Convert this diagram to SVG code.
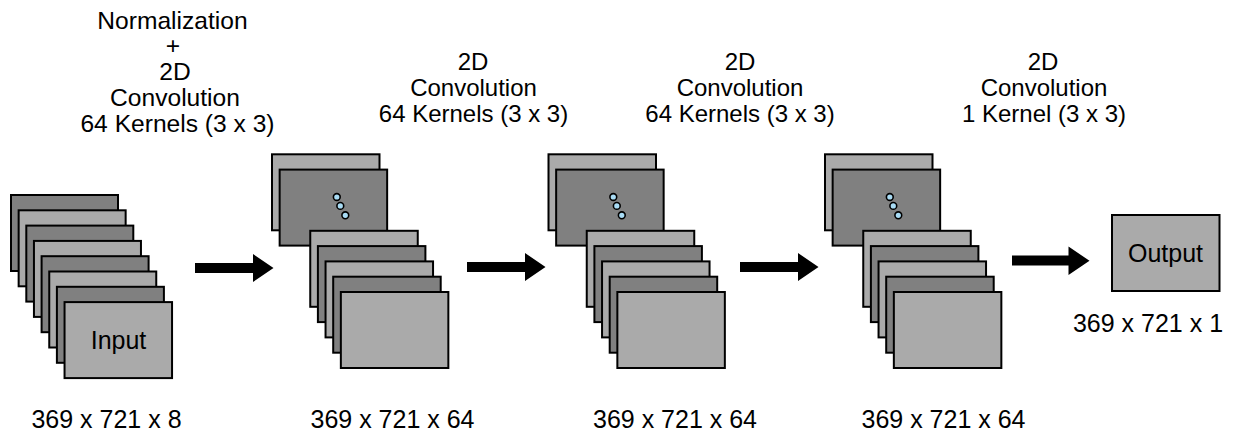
<svg xmlns="http://www.w3.org/2000/svg" width="1234" height="435" viewBox="0 0 1234 435">
<style>
text{font-family:"Liberation Sans",Arial,sans-serif;fill:#000;text-anchor:middle}
.t{font-size:24px}
.t1{font-size:24.6px}
.l{font-size:25px}
.d{fill:#808080;stroke:#000;stroke-width:2}
.g{fill:#aaaaaa;stroke:#000;stroke-width:2}
.c{fill:#a9dcf5;stroke:#000;stroke-width:1.6}
.a{fill:#000}
</style>
<defs>
<g id="dots">
<circle class="c" cx="64.8" cy="42.7" r="3.4"/>
<circle class="c" cx="68.3" cy="51.6" r="3.4"/>
<circle class="c" cx="73.3" cy="61" r="3.4"/>
</g>
<g id="convstack">
<rect class="g" x="0" y="0" width="107.5" height="76"/>
<rect class="d" x="7.65" y="15.3" width="107.5" height="76"/>
<use href="#dots"/>
<rect class="g" x="38.25" y="76.5" width="107.5" height="76"/>
<rect class="d" x="45.9" y="91.8" width="107.5" height="76"/>
<rect class="g" x="53.55" y="107.1" width="107.5" height="76"/>
<rect class="d" x="61.2" y="122.4" width="107.5" height="76"/>
<rect class="g" x="68.85" y="137.7" width="107.5" height="76"/>
</g>
</defs>
<g id="input">
<text class="t1" x="172.5" y="28.5">Normalization</text>
<text class="t1" x="173" y="54">+</text>
<text class="t1" x="175" y="80">2D</text>
<text class="t1" x="175" y="106">Convolution</text>
<text class="t1" x="177.5" y="131.5">64 Kernels (3 x 3)</text>
<rect class="d" x="11" y="195" width="107" height="76"/>
<rect class="g" x="18.65" y="210.3" width="107" height="76"/>
<rect class="d" x="26.3" y="225.6" width="107" height="76"/>
<rect class="g" x="33.95" y="240.9" width="107" height="76"/>
<rect class="d" x="41.6" y="256.2" width="107" height="76"/>
<rect class="g" x="49.25" y="271.5" width="107" height="76"/>
<rect class="d" x="56.9" y="286.8" width="107" height="76"/>
<rect class="g" x="64.55" y="302.1" width="107.5" height="76"/>
<text class="l" x="118.5" y="348.5">Input</text>
<text class="l" x="106.5" y="428">369 x 721 x 8</text>
</g>
<g id="conv1">
<text class="t" x="473" y="69.5">2D</text>
<text class="t" x="473.5" y="95.5">Convolution</text>
<text class="t" x="473.5" y="121.5">64 Kernels (3 x 3)</text>
<use href="#convstack" x="272" y="154.3"/>
<text class="l" x="392.5" y="428">369 x 721 x 64</text>
</g>
<g id="conv2">
<text class="t" x="740" y="69.5">2D</text>
<text class="t" x="740" y="95.5">Convolution</text>
<text class="t" x="740" y="121.5">64 Kernels (3 x 3)</text>
<use href="#convstack" x="548.5" y="154.3"/>
<text class="l" x="675" y="428">369 x 721 x 64</text>
</g>
<g id="conv3">
<text class="t" x="1043" y="69.5">2D</text>
<text class="t" x="1044" y="95.5">Convolution</text>
<text class="t" x="1044" y="121.5">1 Kernel (3 x 3)</text>
<use href="#convstack" x="825" y="154.3"/>
<text class="l" x="943.5" y="428">369 x 721 x 64</text>
</g>
<g id="output">
<rect class="g" x="1112" y="215" width="107.5" height="76"/>
<text class="l" x="1165.5" y="262">Output</text>
<text class="l" x="1148" y="331.5">369 x 721 x 1</text>
</g>
<g id="connectors">
<path class="a" d="M195 263H253V254L273.5 268L253 282V273H195Z"/>
<path class="a" d="M467 262H525V253L545.5 267L525 281V272H467Z"/>
<path class="a" d="M740 262H798V253L818.5 267L798 281V272H740Z"/>
<path class="a" d="M1012 255.5H1068.5V246.5L1089.5 260.8L1068.5 275V265.5H1012Z"/>
</g>
</svg>
